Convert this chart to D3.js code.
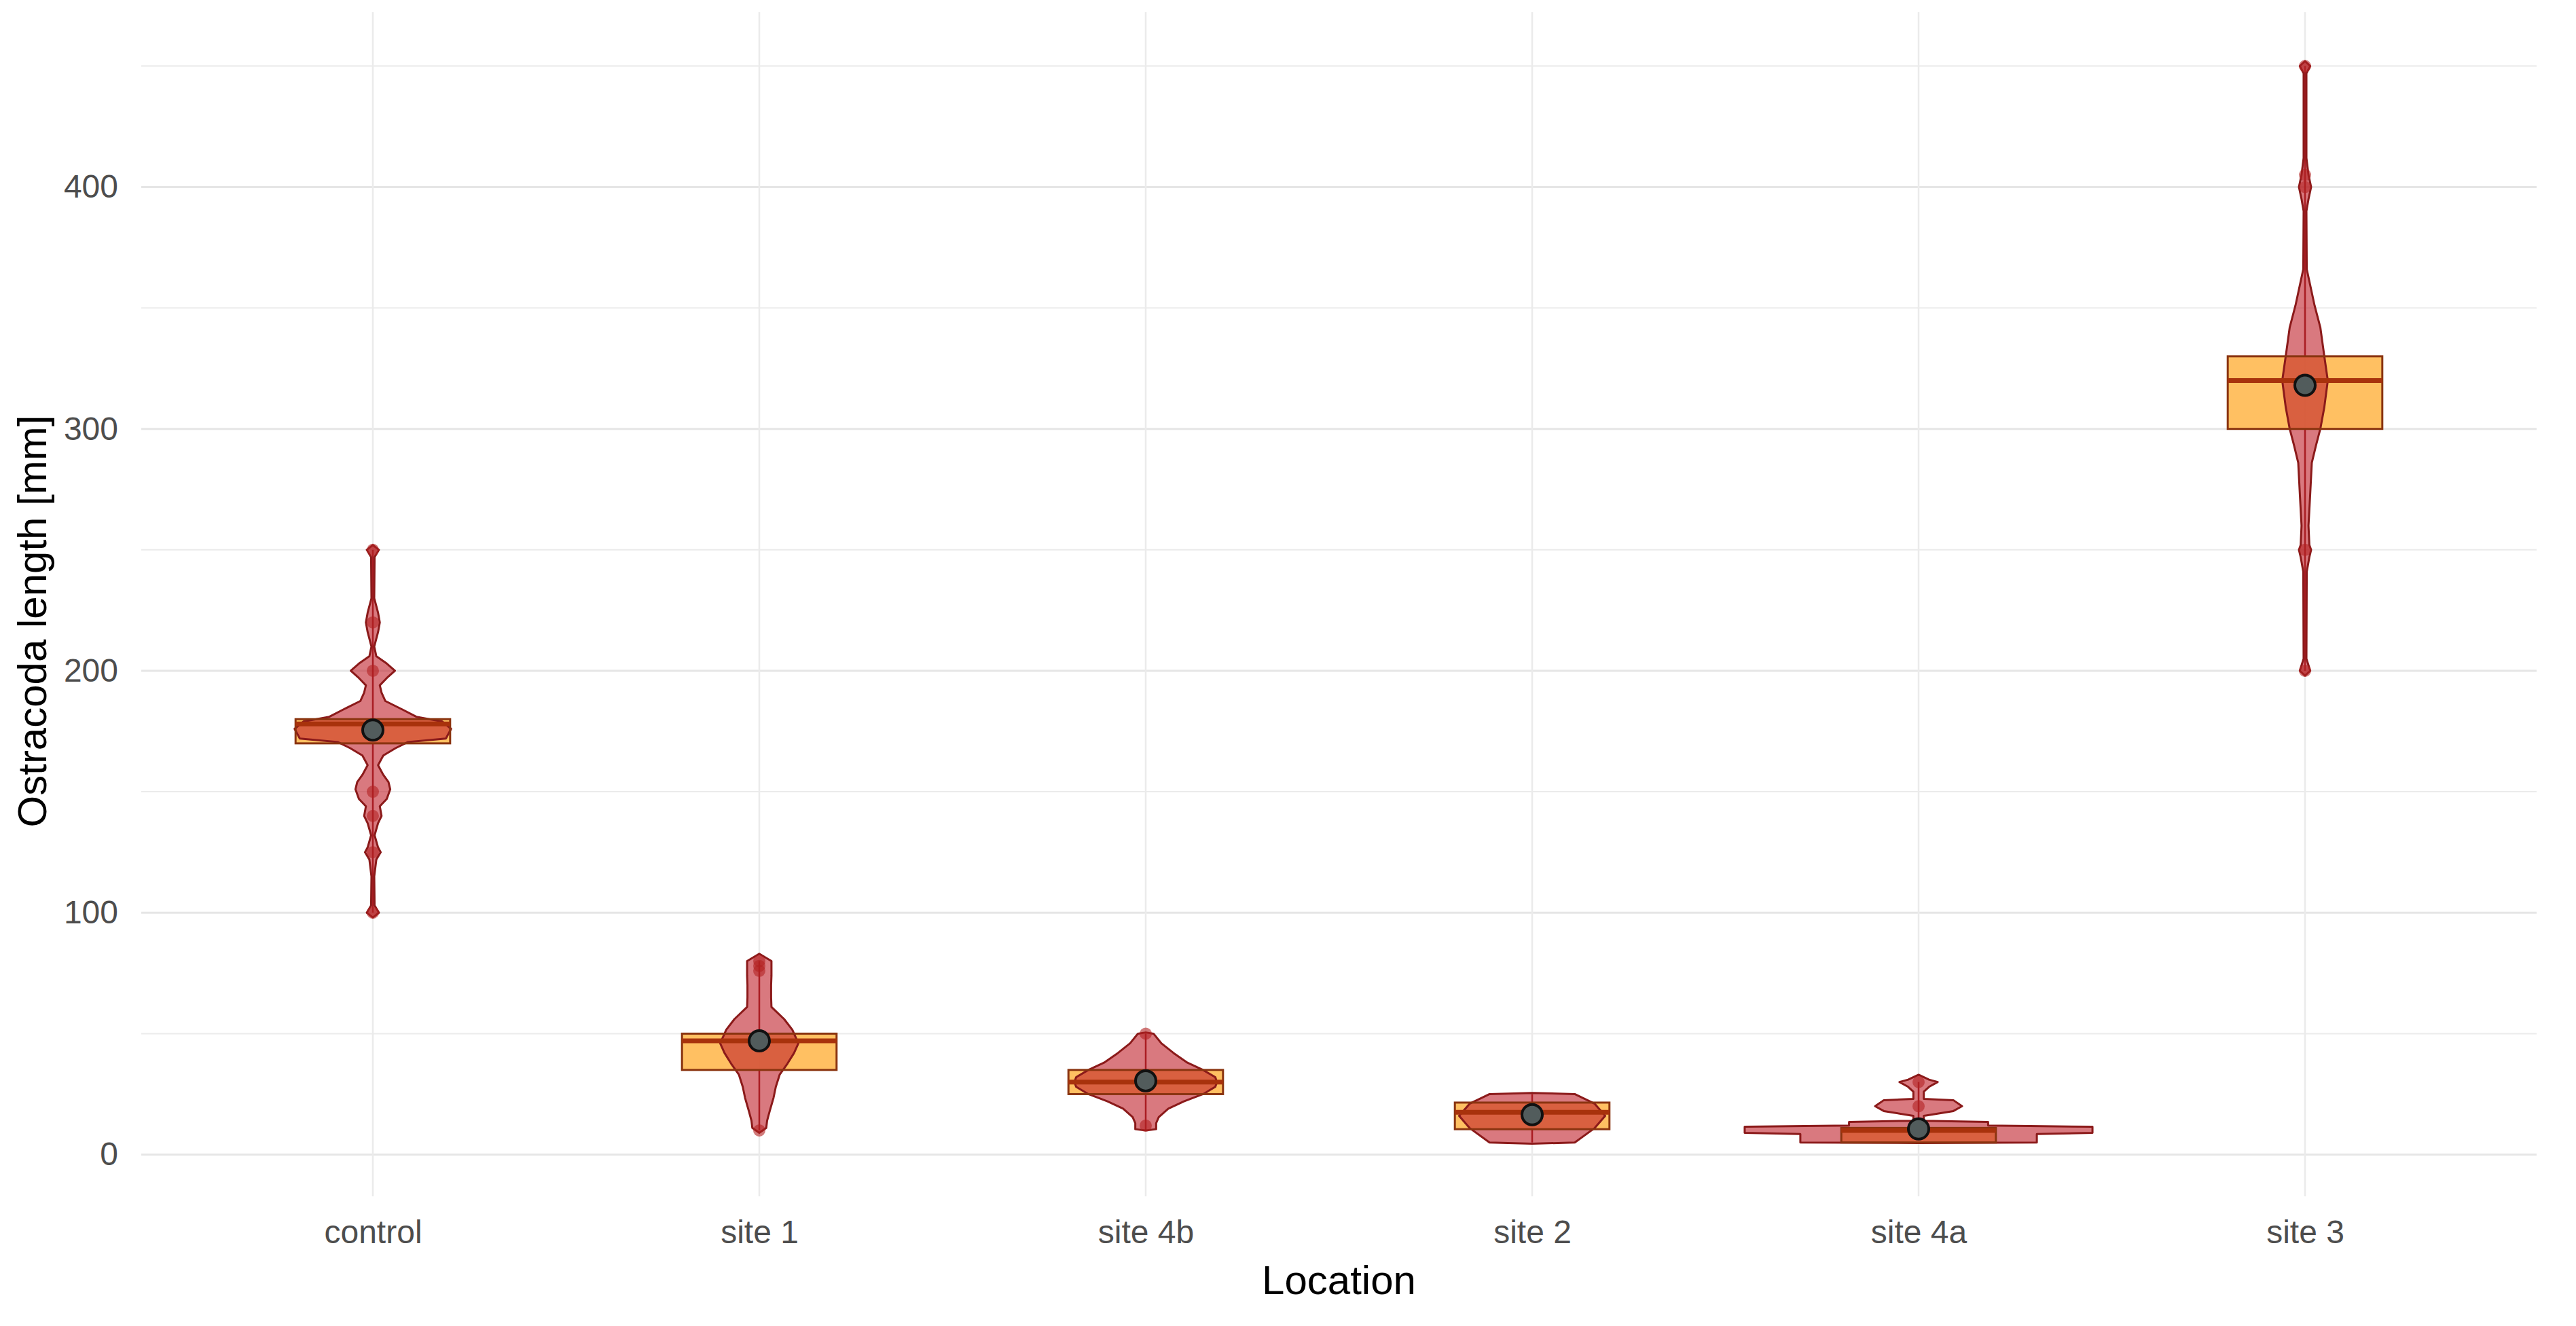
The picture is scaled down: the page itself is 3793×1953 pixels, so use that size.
<!DOCTYPE html>
<html>
<head>
<meta charset="utf-8">
<script src="https://cdn.jsdelivr.net/npm/d3@7"></script>
<style>
  body { margin: 0; background: #fff; }
  text { font-family: "Liberation Sans", Arial, sans-serif; }
</style>
</head>
<body>
<div id="my_dataviz"></div>
<script>
// categories and summary values
const locations = ["control", "site 1", "site 4b", "site 2", "site 4a", "site 3"];
const q1Vals     = [170, 35, 25, 10.5, 5, 300];
const medianVals = [178, 47, 30, 17.5, 10, 320];
const q3Vals     = [180, 50, 35, 21.5, 11, 330];
const meanVals   = [175.5, 47, 30.5, 16.5, 10.6, 318];
const minVals    = [100, 10, 10, 5, 5, 200];
const maxVals    = [250, 80, 50, 25, 30, 450];
const yTicks = [0, 100, 200, 300, 400];
const yMinor = [50, 150, 250, 350, 450];

// single observations that show as dots
const pointsControl = [250, 220, 200, 150, 140, 125, 100];
const points1  = [80, 78, 76, 10];
const points4b = [50, 12];
const points2  = [];
const points4a = [30, 20];
const points3  = [450, 405, 400, 250, 200];

// violin outlines: [value, relative width] (1 = widest violin)
const violinControl = [[252,0],[250,0.035],[247,0.01],[230,0.008],[224,0.03],[220,0.04],[216,0.03],[210,0.008],
  [206,0.02],[203,0.08],[200,0.127],[197,0.08],[194,0.04],[191,0.05],[187.5,0.072],[184,0.17],[181,0.25],
  [179,0.40],[176,0.45],[172,0.42],[170.5,0.2],[168,0.13],[165,0.06],[161,0.03],[157,0.06],[154,0.09],
  [151,0.1],[147,0.08],[144,0.04],[140,0.05],[137,0.03],[132,0.01],[127,0.03],[125,0.045],[122,0.02],
  [115,0.008],[103,0.01],[100,0.035],[98,0]];
const violin1 = [[83,0],[80,0.07],[77,0.07],[74,0.07],[70,0.068],[65,0.068],[61,0.07],[56,0.143],[51.6,0.19],
  [46,0.225],[42,0.2],[37.6,0.162],[33,0.117],[28,0.095],[23.5,0.082],[18,0.06],[14,0.045],[11,0.04],[9,0]];
const violin4b = [[50.5,0],[50,0.045],[46,0.09],[42,0.16],[38,0.24],[35,0.33],[32,0.40],[30,0.41],[28,0.40],
  [25,0.33],[22,0.22],[19,0.13],[15.5,0.075],[13,0.06],[10.5,0.06],[10,0]];
const violin2 = [[25.5,0],[25,0.245],[21,0.36],[16,0.42],[11,0.36],[5,0.245],[4.5,0]];
const violin4a = [[33,0],[31,0.06],[30,0.11],[28,0.06],[26,0.03],[23,0.03],[22.5,0.2],[20,0.25],[18,0.2],
  [16,0.03],[14,0.03],[13.5,0.4],[12,0.4],[11.5,1.0],[9,1.0],[8.5,0.68],[5,0.68],[4.8,0]];
const violin3 = [[452,0],[450,0.03],[447,0.008],[412,0.008],[405,0.02],[400,0.035],[395,0.02],[390,0.008],
  [366,0.01],[351,0.055],[342,0.088],[330,0.111],[320,0.131],[309,0.111],[300,0.088],[293,0.0625],
  [286,0.039],[272,0.029],[260,0.02],[252,0.025],[250,0.035],[247,0.025],[241,0.01],[205,0.008],[200,0.03],[198,0]];

const violins = [violinControl, violin1, violin4b, violin2, violin4a, violin3];
const points = [pointsControl, points1, points4b, points2, points4a, points3];

const W = 3793, H = 1953;
const panel = { left: 208, right: 3735, top: 18, bottom: 1762 };

const svg = d3.select("#my_dataviz")
  .append("svg")
  .attr("width", W)
  .attr("height", H);

// scales
const x = d3.scalePoint()
  .domain(locations)
  .range([549, 3394]);
const step = x.step();

const y = d3.scaleLinear()
  .domain([-17.25, 472.25])
  .range([panel.bottom, panel.top]);

const vw = d3.scaleLinear().domain([0, 1]).range([0, 0.9 * step]);
const boxW = 0.4 * step;

// grid
svg.append("g").selectAll("line.minor")
  .data(yMinor)
  .join("line")
  .attr("x1", panel.left).attr("x2", panel.right)
  .attr("y1", d => y(d)).attr("y2", d => y(d))
  .attr("stroke", "#EBEBEB").attr("stroke-width", 2);
svg.append("g").selectAll("line.major")
  .data(yTicks)
  .join("line")
  .attr("x1", panel.left).attr("x2", panel.right)
  .attr("y1", d => y(d)).attr("y2", d => y(d))
  .attr("stroke", "#E6E6E6").attr("stroke-width", 3);
svg.append("g").selectAll("line.vert")
  .data(locations)
  .join("line")
  .attr("x1", d => x(d)).attr("x2", d => x(d))
  .attr("y1", panel.top).attr("y2", panel.bottom)
  .attr("stroke", "#EBEBEB").attr("stroke-width", 2.5);

// axes
const yAxis = svg.append("g")
  .attr("transform", "translate(" + panel.left + ",0)")
  .call(d3.axisLeft(y).tickValues(yTicks).tickSize(0).tickPadding(34));
yAxis.select(".domain").remove();
yAxis.selectAll("text")
  .attr("font-size", 48)
  .attr("fill", "#4D4D4D")
  .style("font-family", "Liberation Sans, Arial, sans-serif");

const xAxis = svg.append("g")
  .attr("transform", "translate(0," + panel.bottom + ")")
  .call(d3.axisBottom(x).tickSize(0).tickPadding(35));
xAxis.select(".domain").remove();
xAxis.selectAll("text")
  .attr("font-size", 48)
  .attr("fill", "#4D4D4D")
  .style("font-family", "Liberation Sans, Arial, sans-serif");

svg.append("text")
  .attr("x", (panel.left + panel.right) / 2)
  .attr("y", 1906)
  .attr("text-anchor", "middle")
  .attr("font-size", 60)
  .attr("fill", "#000")
  .text("Location");

svg.append("text")
  .attr("transform", "translate(68," + ((panel.top + panel.bottom) / 2 + 25) + ") rotate(-90)")
  .attr("text-anchor", "middle")
  .attr("font-size", 60)
  .attr("fill", "#000")
  .text("Ostracoda length [mm]");

// one group per location
const groups = svg.append("g").selectAll("g")
  .data(locations)
  .join("g");

groups.each(function (loc, i) {
  const g = d3.select(this);
  const cx = x(loc);

  // whiskers
  g.append("line")
    .attr("x1", cx).attr("x2", cx)
    .attr("y1", y(maxVals[i])).attr("y2", y(q3Vals[i]))
    .attr("stroke", "#8B1A1A").attr("stroke-width", 2.5);
  g.append("line")
    .attr("x1", cx).attr("x2", cx)
    .attr("y1", y(q1Vals[i])).attr("y2", y(minVals[i]))
    .attr("stroke", "#8B1A1A").attr("stroke-width", 2.5);

  // box fill
  g.append("rect")
    .attr("x", cx - boxW / 2)
    .attr("width", boxW)
    .attr("y", y(q3Vals[i]))
    .attr("height", y(q1Vals[i]) - y(q3Vals[i]))
    .attr("fill", "#FFB547")
    .attr("fill-opacity", 0.85);

  // violin
  const area = d3.area()
    .y(d => y(d[0]))
    .x0(d => cx - vw(d[1]) / 2)
    .x1(d => cx + vw(d[1]) / 2);
  g.append("path")
    .datum(violins[i])
    .attr("d", area)
    .attr("fill", "#C0202A")
    .attr("fill-opacity", 0.6)
    .attr("stroke", "#8B1A1A")
    .attr("stroke-width", 3)
    .attr("stroke-linejoin", "round");

  // box outline and median
  g.append("rect")
    .attr("x", cx - boxW / 2)
    .attr("width", boxW)
    .attr("y", y(q3Vals[i]))
    .attr("height", y(q1Vals[i]) - y(q3Vals[i]))
    .attr("fill", "none")
    .attr("stroke", "#8A3410")
    .attr("stroke-width", 3);
  g.append("line")
    .attr("x1", cx - boxW / 2).attr("x2", cx + boxW / 2)
    .attr("y1", y(medianVals[i])).attr("y2", y(medianVals[i]))
    .attr("stroke", "#A8320C")
    .attr("stroke-width", 7);

  // observations
  g.selectAll("circle.obs")
    .data(points[i])
    .join("circle")
    .attr("cx", cx)
    .attr("cy", d => y(d))
    .attr("r", 9)
    .attr("fill", "#B22222")
    .attr("fill-opacity", 0.6);

  // mean
  g.append("circle")
    .attr("cx", cx)
    .attr("cy", y(meanVals[i]))
    .attr("r", 15)
    .attr("fill", "#525C5C")
    .attr("stroke", "#111")
    .attr("stroke-width", 4);
});
</script>
</body>
</html>
